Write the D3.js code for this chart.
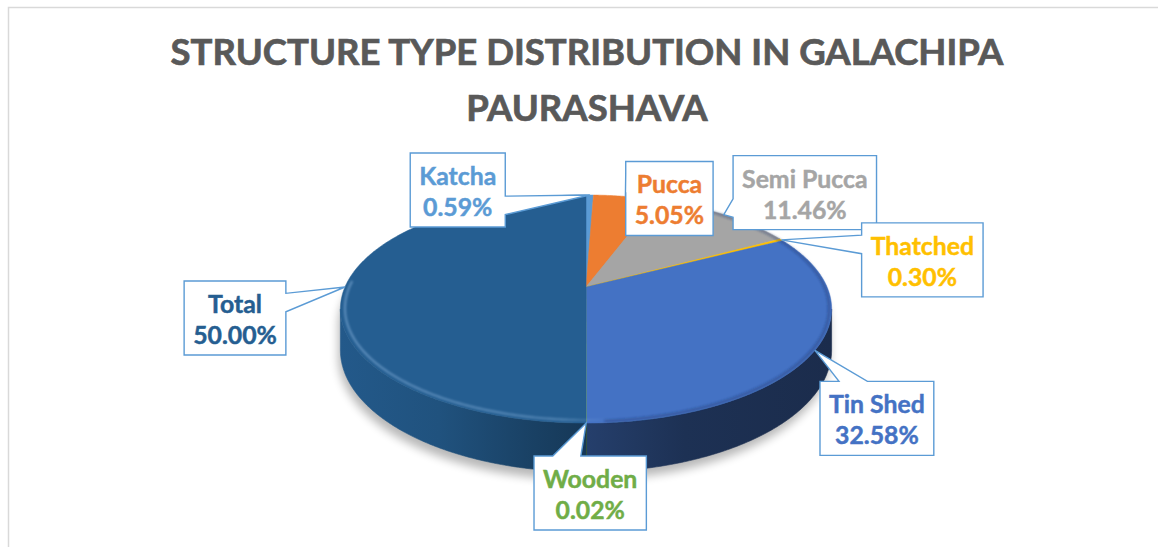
<!DOCTYPE html>
<html><head><meta charset="utf-8">
<script src="https://cdn.jsdelivr.net/npm/d3@7"></script>
<style>body{margin:0;background:#fff;} svg{display:block;}</style>
</head><body>
<svg id="chart" width="1158" height="547"></svg>
<script>
// ---------- data ----------
const categories = ["Katcha", "Pucca", "Semi Pucca", "Thatched", "Tin Shed", "Wooden", "Total"];
const percentages = [0.59, 5.05, 11.46, 0.30, 32.58, 0.02, 50.00];
const percentLabels = ["0.59%", "5.05%", "11.46%", "0.30%", "32.58%", "0.02%", "50.00%"];
const titleLines = ["STRUCTURE TYPE DISTRIBUTION IN GALACHIPA", "PAURASHAVA"];

// ---------- styles / layout ----------
const sliceColors = ["#5b9bd5", "#ed7d31", "#a5a5a5", "#ffc000", "#4472c4", "#70ad47", "#255e91"];
const labelOffsets = [[-132, -5], [44, 2], [81, -22], [141, 20], [62, 68], [4, 70], [-110, 31]];
const FONT = "Lato, 'Open Sans', sans-serif";

const svg = d3.select("#chart");

// chart frame
svg.append("rect").attr("x", 8.5).attr("y", 7.5).attr("width", 1170).attr("height", 560)
  .attr("fill", "#fff").attr("stroke", "#d9d9d9").attr("stroke-width", 1.5);

// title
const title = svg.append("g").attr("font-family", FONT).attr("font-weight", 700).attr("fill", "#595959")
  .attr("stroke", "#595959").attr("stroke-width", 0.7).attr("text-anchor", "middle");
const titleSize = 36.5;
titleLines.forEach((t, i) => {
  title.append("text").attr("x", 587).attr("y", 65 + i * 56).attr("font-size", titleSize).text(t);
});

// ---------- 3D pie geometry ----------
const cx = 586, cy = 287, Rx = 241, A = 109.8, k = 0.193, D = 39.5;
function proj(theta, r, h) {
  const u = -r * Math.cos(theta), v = r * Math.sin(theta);
  const w = 1 / (1 - k * u);
  return [cx + Rx * v * w, cy + A * u * w + h * D * w];
}
function arcPts(a0, a1, h, r) {
  const n = Math.max(2, Math.ceil((a1 - a0) / 0.01));
  const pts = [];
  for (let i = 0; i <= n; i++) pts.push(proj(a0 + (a1 - a0) * i / n, r === undefined ? 1 : r, h));
  return pts;
}
const line = d3.line();

const pie = d3.pie().sort(null).value(d => d)(percentages);
const thR = Math.acos(-k), thL = 2 * Math.PI - Math.acos(-k);

const defs = svg.append("defs");
const shadowF = defs.append("filter").attr("id", "shadow").attr("x", "-20%").attr("y", "-20%").attr("width", "140%").attr("height", "160%");
shadowF.append("feGaussianBlur").attr("stdDeviation", 5);
const softF = defs.append("filter").attr("id", "soft").attr("x", "-10%").attr("y", "-10%").attr("width", "120%").attr("height", "120%");
softF.append("feGaussianBlur").attr("stdDeviation", 1.1);

// wall brightness profile across pie width
const wallStops = [[0, 0.95], [0.2, 0.87], [0.4, 0.68], [0.5, 0.6], [0.5, 0.55], [0.7, 0.43], [1, 0.39]];
function scaleColor(c, f) {
  const col = d3.rgb(c);
  return d3.rgb(col.r * f, col.g * f, col.b * f).formatHex();
}

const pieG = svg.append("g");

// shadow under pie
pieG.append("path").attr("d", line(arcPts(thR, thL, 1.08).concat(arcPts(thL, 2 * Math.PI + thR, 0.3))) + "Z")
  .attr("transform", "translate(-2,4)")
  .attr("fill", "#000").attr("opacity", 0.28).attr("filter", "url(#shadow)");

// walls
pie.forEach((d, i) => {
  const a0 = Math.max(d.startAngle, thR), a1 = Math.min(d.endAngle, thL);
  if (a1 <= a0) return;
  const gid = "wall" + i;
  const g = defs.append("linearGradient").attr("id", gid).attr("gradientUnits", "userSpaceOnUse")
    .attr("x1", cx - Rx * 1.02).attr("x2", cx + Rx * 1.02).attr("y1", 0).attr("y2", 0);
  wallStops.forEach(s => g.append("stop").attr("offset", s[0]).attr("stop-color", scaleColor(sliceColors[i], s[1])));
  const pts = arcPts(a0, a1, 0).concat(arcPts(a0, a1, 1).reverse());
  pieG.append("path").attr("d", line(pts) + "Z").attr("fill", `url(#${gid})`)
    .attr("stroke", `url(#${gid})`).attr("stroke-width", 0.6);
});

// top faces
pie.forEach((d, i) => {
  const pts = [[cx, cy]].concat(arcPts(d.startAngle, d.endAngle, 0));
  pieG.append("path").attr("d", line(pts) + "Z").attr("fill", sliceColors[i])
    .attr("stroke", sliceColors[i]).attr("stroke-width", d.value < 0.1 ? 0.15 : 0.5).attr("stroke-linejoin", "round");
});

// bevel rim highlight / shade on front edges
const hl = defs.append("linearGradient").attr("id", "rimHL").attr("gradientUnits", "userSpaceOnUse")
  .attr("x1", cx - Rx).attr("x2", cx + Rx).attr("y1", 0).attr("y2", 0);
[[0, 0.45], [0.45, 0.35], [0.55, 0.0], [1, 0]].forEach(s => hl.append("stop").attr("offset", s[0]).attr("stop-color", "#9fc6ee").attr("stop-opacity", s[1]));
pieG.append("path").attr("d", line(arcPts(Math.PI * 0.56, thL + 0.25, 0, 0.982)))
  .attr("fill", "none").attr("stroke", "url(#rimHL)").attr("stroke-width", 2.2).attr("filter", "url(#soft)");
pieG.append("path").attr("d", line(arcPts(0.25, Math.PI * 0.98, 0, 0.99)))
  .attr("fill", "none").attr("stroke", "#1d3566").attr("stroke-opacity", 0.35).attr("stroke-width", 3).attr("filter", "url(#soft)");

// ---------- callout labels ----------
const labG = svg.append("g").attr("font-family", FONT).attr("font-weight", 700).attr("text-anchor", "middle");
const labelSize = 24.8;
const boxH = 74, pad = 9;

function calloutPath(l, t, w, h, px, py) {
  const r = l + w, b = t + h, hc = l + w / 2, vc = t + h / 2;
  const dx = px - hc, dy = py - vc;
  const dz = Math.abs(dy) - Math.abs(dx * h / w);
  const x1 = l + w * (dx > 0 ? 7 : 2) / 12, x2 = l + w * (dx > 0 ? 10 : 5) / 12;
  const y1 = t + h * (dy > 0 ? 7 : 2) / 12, y2 = t + h * (dy > 0 ? 10 : 5) / 12;
  const p = [[l, t]];
  if (dz > 0 && dy < 0) p.push([x1, t], [px, py], [x2, t]);
  p.push([r, t]);
  if (dz <= 0 && dx > 0) p.push([r, y1], [px, py], [r, y2]);
  p.push([r, b]);
  if (dz > 0 && dy > 0) p.push([x2, b], [px, py], [x1, b]);
  p.push([l, b]);
  if (dz <= 0 && dx < 0) p.push([l, y2], [px, py], [l, y1]);
  return line(p) + "Z";
}

pie.forEach((d, i) => {
  const mid = (d.startAngle + d.endAngle) / 2;
  const [px, py] = proj(mid, 1, 0);
  const g = labG.append("g");
  const t1 = g.append("text").attr("font-size", labelSize).attr("fill", sliceColors[i])
    .attr("stroke", sliceColors[i]).attr("stroke-width", 0.45).text(categories[i]);
  const t2 = g.append("text").attr("font-size", labelSize).attr("fill", sliceColors[i])
    .attr("stroke", sliceColors[i]).attr("stroke-width", 0.45).text(percentLabels[i]);
  const tw = Math.max(t1.node().getComputedTextLength(), t2.node().getComputedTextLength());
  const bw = tw + 2 * pad;
  const bcx = px + labelOffsets[i][0], bcy = py + labelOffsets[i][1];
  const l = bcx - bw / 2, t = bcy - boxH / 2;
  g.insert("path", "text").attr("d", calloutPath(l, t, bw, boxH, px, py))
    .attr("fill", "#fff").attr("stroke", "#5b9bd5").attr("stroke-width", 1.4).attr("stroke-linejoin", "miter");
  t1.attr("x", bcx).attr("y", t + 32);
  t2.attr("x", bcx).attr("y", t + 63);
});
</script>
</body></html>
